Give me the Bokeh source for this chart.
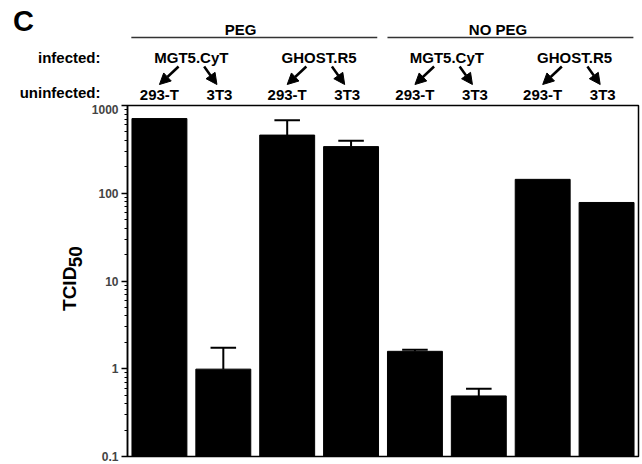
import numpy as np
from bokeh.plotting import figure
from bokeh.layouts import column, row
from bokeh.models import Range1d, FixedTicker, Label, Arrow, NormalHead, CustomJSTickFormatter
from bokeh.embed import file_html
from bokeh.resources import INLINE

# ---- data ----
treatments = ["PEG", "NO PEG"]
infected = ["MGT5.CyT", "GHOST.R5", "MGT5.CyT", "GHOST.R5"]
uninfected = ["293-T", "3T3", "293-T", "3T3", "293-T", "3T3", "293-T", "3T3"]
values = [710, 0.99, 460, 340, 1.58, 0.49, 144, 78.5]
err_upper = [None, 1.73, 678, 397, 1.65, 0.59, None, None]
y_ticks = [0.1, 1, 10, 100, 1000]
y_tick_labels = ["0.1", "1", "10", "100", "1000"]

FONT = "Liberation Sans"
W, H = 642, 464
HEAD_H = 104          # header strip height
LEFT_W = 88           # strip holding the y title
FRAME_L, FRAME_R = 127, 638   # frame edges (page x)
X0, X1 = -0.5, len(values) - 0.5
STEP = (FRAME_R - FRAME_L) / (X1 - X0)

xs = list(range(len(values)))

# ---------------- main chart ----------------
MAIN_W = W - LEFT_W
MAIN_H = H - HEAD_H
p = figure(width=MAIN_W, height=MAIN_H, x_range=Range1d(X0, X1), y_range=Range1d(0.1, 1000),
           y_axis_type="log", x_axis_location=None, output_backend="svg",
           toolbar_location=None, min_border_left=FRAME_L - LEFT_W,
           min_border_right=W - FRAME_R, min_border_top=1, min_border_bottom=8)
p.grid.visible = False
p.outline_line_color = "black"
p.outline_line_width = 1.5
p.outline_line_alpha = 1.0

minor = [k * 10.0 ** e for e in range(-1, 3) for k in range(2, 10)]
ax = p.yaxis[0]
ax.ticker = FixedTicker(ticks=y_ticks, minor_ticks=minor)
ax.formatter = CustomJSTickFormatter(args=dict(t=y_ticks, l=y_tick_labels), code="""
  for (let i = 0; i < t.length; i++) { if (Math.abs(t[i] - tick) < 1e-9 * Math.max(1, t[i])) return l[i]; }
  return String(tick);
""")
ax.axis_line_width = 1.5
ax.major_tick_line_width = 1.5
ax.minor_tick_line_width = 1
ax.major_tick_out = 6
ax.major_tick_in = 0
ax.minor_tick_out = 3
ax.minor_tick_in = 0
ax.major_label_text_font = FONT
ax.major_label_text_font_style = "bold"
ax.major_label_text_font_size = "12px"
ax.major_label_standoff = 3

p.vbar(x=xs, top=values, bottom=0.1, width=0.86, color="black")

ex = [x for x, e in zip(xs, err_upper) if e is not None]
ev = [v for v, e in zip(values, err_upper) if e is not None]
eu = [e for e in err_upper if e is not None]
p.segment(x0=ex, y0=ev, x1=ex, y1=eu, line_color="black", line_width=2)
p.segment(x0=[x - 0.2 for x in ex], y0=eu, x1=[x + 0.2 for x in ex], y1=eu,
          line_color="black", line_width=2)

# ---------------- header strip (x aligned with the bars) ----------------
hx0 = X0 - FRAME_L / STEP
hx1 = X1 + (W - FRAME_R) / STEP
h = figure(width=W, height=HEAD_H, x_range=Range1d(hx0, hx1), y_range=Range1d(HEAD_H, 0),
           x_axis_location=None, y_axis_location=None, output_backend="svg",
           toolbar_location=None, min_border=0)
h.extra_x_ranges = {"px": Range1d(0, W)}
h.grid.visible = False
h.outline_line_color = None


def lab(fig, text, x, y, size, xr="default", align="center", angle=0.0):
    fig.add_layout(Label(x=x, y=y, x_range_name=xr, text=text,
                         text_font=FONT, text_font_style="bold",
                         text_font_size=f"{size}px", text_align=align,
                         text_baseline="middle", angle=angle, text_color="black"))


lab(h, "C", 23, 20, 29, xr="px")
lab(h, "infected:", 100, 57, 15, xr="px", align="right")
lab(h, "uninfected:", 100, 92, 15, xr="px", align="right")

lab(h, treatments[0], 1.27, 29, 15)
lab(h, treatments[1], 5.3, 29, 15)
for x0, x1 in [(-0.44, 3.41), (3.57, 7.42)]:
    h.add_layout(Arrow(x_start=x0, x_end=x1, y_start=37, y_end=37,
                       start=None, end=None, line_color="#333333", line_width=1.5))

for g, name in enumerate(infected):
    a, b = 2 * g, 2 * g + 1
    c = (a + b) / 2
    lab(h, name, c, 57, 15)
    for xs0, xe in [(c - 0.2, a + 0.0), (c + 0.2, b - 0.1)]:
        h.add_layout(Arrow(x_start=xs0, x_end=xe, y_start=66, y_end=84,
                           line_color="black", line_width=2.5,
                           end=NormalHead(size=11, fill_color="black", line_color="black",
                                          line_width=1)))
for i, name in enumerate(uninfected):
    off = 0.0 if name == "293-T" else -0.06
    lab(h, name, i + off, 94, 15)

# ---------------- left strip with the y title ----------------
l = figure(width=LEFT_W, height=MAIN_H, x_range=Range1d(0, LEFT_W), y_range=Range1d(MAIN_H, 0),
           x_axis_location=None, y_axis_location=None, output_backend="svg",
           toolbar_location=None, min_border=0)
l.grid.visible = False
l.outline_line_color = None
lab(l, "TCID", 68.5, 292 - HEAD_H, 19, angle=np.pi / 2)
lab(l, "50", 75, 259 - HEAD_H, 19, angle=np.pi / 2)

layout = column(h, row(l, p, spacing=0), spacing=0)
open("out.html", "w").write(file_html(layout, INLINE))
